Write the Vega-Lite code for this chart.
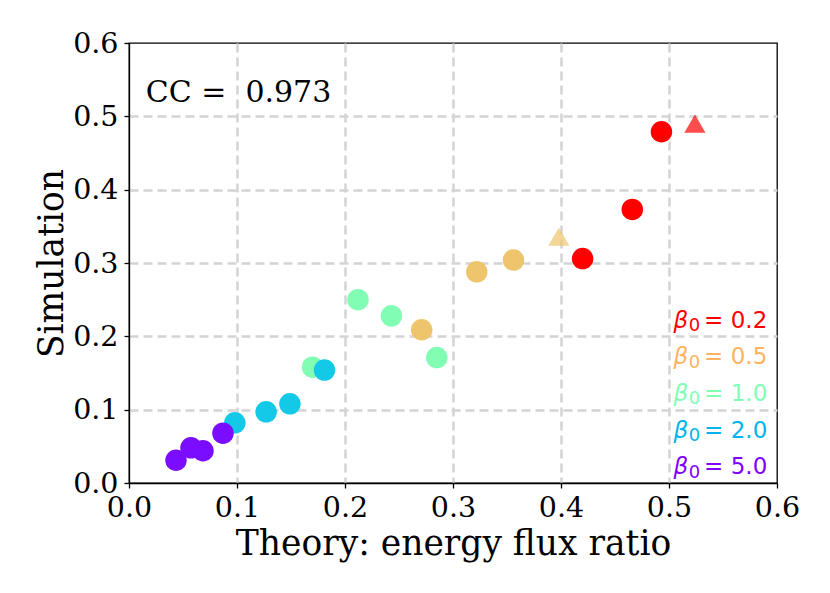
{
  "$schema": "https://vega.github.io/schema/vega-lite/v6.json",
  "width": 648,
  "height": 440,
  "autosize": {"type": "none"},
  "padding": {"left": 129, "top": 43, "right": 53, "bottom": 110},
  "background": "#ffffff",
  "datasets": {
    "points": [
      {"theory": 0.420, "simulation": 0.306, "beta": "0.2", "marker": "circle"},
      {"theory": 0.466, "simulation": 0.373, "beta": "0.2", "marker": "circle"},
      {"theory": 0.493, "simulation": 0.479, "beta": "0.2", "marker": "circle"},
      {"theory": 0.524, "simulation": 0.490, "beta": "0.2", "marker": "triangle"},
      {"theory": 0.271, "simulation": 0.209, "beta": "0.5", "marker": "circle"},
      {"theory": 0.322, "simulation": 0.288, "beta": "0.5", "marker": "circle"},
      {"theory": 0.356, "simulation": 0.304, "beta": "0.5", "marker": "circle"},
      {"theory": 0.398, "simulation": 0.336, "beta": "0.5", "marker": "triangle"},
      {"theory": 0.170, "simulation": 0.158, "beta": "1.0", "marker": "circle"},
      {"theory": 0.212, "simulation": 0.250, "beta": "1.0", "marker": "circle"},
      {"theory": 0.243, "simulation": 0.228, "beta": "1.0", "marker": "circle"},
      {"theory": 0.285, "simulation": 0.171, "beta": "1.0", "marker": "circle"},
      {"theory": 0.098, "simulation": 0.082, "beta": "2.0", "marker": "circle"},
      {"theory": 0.127, "simulation": 0.097, "beta": "2.0", "marker": "circle"},
      {"theory": 0.149, "simulation": 0.108, "beta": "2.0", "marker": "circle"},
      {"theory": 0.181, "simulation": 0.154, "beta": "2.0", "marker": "circle"},
      {"theory": 0.0435, "simulation": 0.031, "beta": "5.0", "marker": "circle"},
      {"theory": 0.0574, "simulation": 0.048, "beta": "5.0", "marker": "circle"},
      {"theory": 0.0685, "simulation": 0.044, "beta": "5.0", "marker": "circle"},
      {"theory": 0.087, "simulation": 0.068, "beta": "5.0", "marker": "circle"}
    ],
    "legendRows": [
      {"theory": 0.591, "simulation": 0.212, "beta": "0.2", "value": "= 0.2"},
      {"theory": 0.591, "simulation": 0.162, "beta": "0.5", "value": "= 0.5"},
      {"theory": 0.591, "simulation": 0.112, "beta": "1.0", "value": "= 1.0"},
      {"theory": 0.591, "simulation": 0.062, "beta": "2.0", "value": "= 2.0"},
      {"theory": 0.591, "simulation": 0.012, "beta": "5.0", "value": "= 5.0"}
    ],
    "note": [
      {"theory": 0.0155, "simulation": 0.520, "label": "CC = \u00a00.973"}
    ]
  },
  "config": {
    "view": {"stroke": "#000000", "strokeWidth": 1.3},
    "axis": {
      "domainColor": "#000000",
      "domainWidth": 1.3,
      "tickColor": "#000000",
      "tickWidth": 1.3,
      "tickSize": 5,
      "labelFont": "DejaVu Serif",
      "labelFontSize": 28.5,
      "labelColor": "#000000",
      "labelFlush": false,
      "labelOverlap": false,
      "titleFont": "DejaVu Serif",
      "titleFontSize": 34.5,
      "titleFontWeight": "normal",
      "titleColor": "#000000",
      "gridColor": "#d4d4d4",
      "gridWidth": 2.5,
      "gridDash": [9, 5],
      "gridOpacity": {"condition": {"test": "datum.value < 0.001 || datum.value > 0.599", "value": 0}, "value": 1}
    }
  },
  "encoding": {
    "x": {
      "field": "theory",
      "type": "quantitative",
      "scale": {"domain": [0, 0.6], "nice": false},
      "axis": {"values": [0, 0.1, 0.2, 0.3, 0.4, 0.5, 0.6], "format": ".1f", "title": "Theory: energy flux ratio", "labelPadding": 5, "titlePadding": 6}
    },
    "y": {
      "field": "simulation",
      "type": "quantitative",
      "scale": {"domain": [0, 0.6], "nice": false},
      "axis": {"values": [0, 0.1, 0.2, 0.3, 0.4, 0.5, 0.6], "format": ".1f", "title": "Simulation", "labelPadding": 6, "titlePadding": 3}
    }
  },
  "layer": [
    {
      "data": {"name": "points"},
      "mark": {"type": "point", "filled": true, "strokeWidth": 0},
      "encoding": {
        "color": {
          "field": "beta",
          "type": "nominal",
          "scale": {"domain": ["0.2", "0.5", "1.0", "2.0", "5.0"], "range": ["#ff0000", "#eec56c", "#82fdb4", "#14c9e7", "#7a0cff"]},
          "legend": null
        },
        "shape": {
          "field": "marker",
          "type": "nominal",
          "scale": {"domain": ["circle", "triangle"], "range": ["circle", "triangle-up"]},
          "legend": null
        },
        "size": {
          "field": "marker",
          "type": "nominal",
          "scale": {"domain": ["circle", "triangle"], "range": [462, 450]},
          "legend": null
        },
        "opacity": {
          "field": "marker",
          "type": "nominal",
          "scale": {"domain": ["circle", "triangle"], "range": [1, 0.7]},
          "legend": null
        }
      }
    },
    {
      "data": {"name": "note"},
      "mark": {"type": "text", "font": "DejaVu Serif", "fontSize": 30, "align": "left", "baseline": "alphabetic", "color": "#000000"},
      "encoding": {"text": {"field": "label"}}
    },
    {
      "data": {"name": "legendRows"},
      "encoding": {
        "color": {
          "field": "beta",
          "type": "nominal",
          "scale": {"domain": ["0.2", "0.5", "1.0", "2.0", "5.0"], "range": ["#ff0000", "#ffb360", "#80ffb4", "#00b4ec", "#8000ff"]},
          "legend": null
        }
      },
      "layer": [
        {
          "mark": {"type": "text", "font": "DejaVu Sans", "fontSize": 23, "align": "right", "baseline": "alphabetic"},
          "encoding": {"text": {"field": "value"}}
        },
        {
          "mark": {"type": "text", "font": "DejaVu Sans", "fontSize": 18, "align": "right", "baseline": "alphabetic", "dx": -67, "dy": 3.5, "text": "0"}
        },
        {
          "mark": {"type": "text", "font": "DejaVu Sans", "fontStyle": "italic", "fontSize": 23, "align": "right", "baseline": "alphabetic", "dx": -79, "text": "β"}
        }
      ]
    }
  ],
  "resolve": {"scale": {"color": "independent"}}
}
